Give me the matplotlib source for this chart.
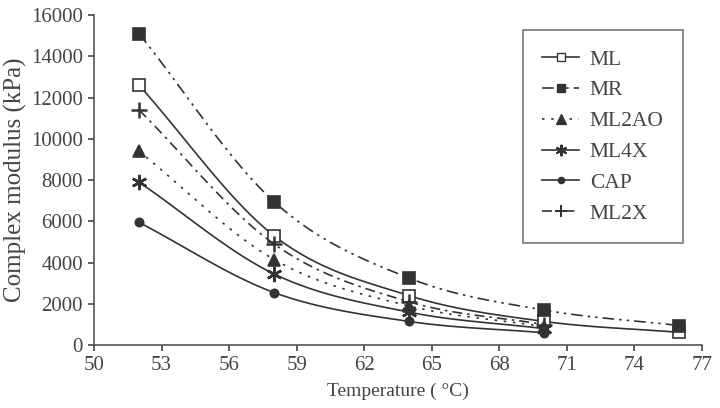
import numpy as np
import matplotlib
matplotlib.use('Agg')
import matplotlib.pyplot as plt

plt.rcParams['font.family'] = ['Liberation Serif', 'DejaVu Serif']

temp = [52, 58, 64, 70, 76]
ml = [12600, 5300, 2400, 1150, 620]
mr = [15100, 6950, 3250, 1700, 950]
ml2ao = [9400, 4150, 1900, 900]
ml4x = [7900, 3450, 1600, 800]
cap = [5950, 2550, 1150, 600]
ml2x = [11400, 4900, 2100, 1000]

names = ['ML', 'MR', 'ML2AO', 'ML4X', 'CAP', 'ML2X']
series = [ml, mr, ml2ao, ml4x, cap, ml2x]

col = '#333333'


def smooth(x, y, n=30):
    # Catmull-Rom curve through the points, like Excel's smoothed line
    x = np.asarray(x, float)
    y = np.asarray(y, float)
    px = np.concatenate([[2 * x[0] - x[1]], x, [2 * x[-1] - x[-2]]])
    py = np.concatenate([[2 * y[0] - y[1]], y, [2 * y[-1] - y[-2]]])
    xs, ys = [], []
    t = np.linspace(0, 1, n)
    for i in range(1, len(px) - 2):
        for p, out in ((px, xs), (py, ys)):
            p0, p1, p2, p3 = p[i - 1], p[i], p[i + 1], p[i + 2]
            out.extend(0.5 * (2 * p1 + (-p0 + p2) * t
                              + (2 * p0 - 5 * p1 + 4 * p2 - p3) * t ** 2
                              + (-p0 + 3 * p1 - 3 * p2 + p3) * t ** 3))
    return np.array(xs), np.array(ys)


styles = {
    'ML': dict(ls='-', marker='s', mfc='white', ms=8),
    'MR': dict(ls=(0, (7, 3, 1.5, 3, 1.5, 3)), marker='s', mfc=col, ms=8),
    'ML2AO': dict(ls=(0, (1.5, 4)), marker='^', mfc=col, ms=9),
    'ML4X': dict(ls='-', marker=(6, 2, 0), mfc=col, ms=11, mew=1.8),
    'CAP': dict(ls='-', marker='o', mfc=col, ms=6),
    'ML2X': dict(ls=(0, (6, 3, 1.5, 3)), marker='+', mfc=col, ms=12, mew=1.8),
}

fig = plt.figure(figsize=(7.2, 4.08), dpi=100)
ax = fig.add_axes([0.1306, 0.154, 0.8444, 0.809])

for name, vals in zip(names, series):
    st = styles[name]
    xs, ys = smooth(temp[:len(vals)], vals)
    ax.plot(xs, ys, color=col, lw=1.2, ls=st['ls'])
    ax.plot(temp[:len(vals)], vals, ls='none', marker=st['marker'], mfc=st['mfc'],
            mec=col, ms=st['ms'], mew=st.get('mew', 1.2), color=col)
    ax.plot([], [], color=col, lw=1.2, ls=st['ls'], marker=st['marker'], mfc=st['mfc'],
            mec=col, ms=st['ms'] * 0.75, mew=st.get('mew', 1.2) * 0.8, label=name)

ax.set_xlim(50, 77)
ax.set_ylim(0, 16000)
ax.set_xticks(range(50, 78, 3))
ax.set_yticks(range(0, 16001, 2000))
for s in ['top', 'right']:
    ax.spines[s].set_visible(False)
for s in ['left', 'bottom']:
    ax.spines[s].set_color('#555555')
    ax.spines[s].set_linewidth(1.2)
ax.tick_params(colors='#444444', labelsize=15, length=4, width=1.2)
ax.tick_params(axis='y', pad=4)
ax.set_xlabel('Temperature ( °C)', fontsize=14, color='#444444', labelpad=6)
ax.set_ylabel('Complex modulus (kPa)', fontsize=18, color='#444444', labelpad=3)

leg = ax.legend(loc='upper left', bbox_to_anchor=(0.7056, 0.9545), fontsize=15.5,
                frameon=True, fancybox=False, edgecolor='#555555', handlelength=1.7,
                borderpad=0.9, labelspacing=0.5, handletextpad=0.5, borderaxespad=0)
leg.get_frame().set_linewidth(1.2)
for t in leg.get_texts():
    t.set_color('#444444')

fig.savefig('out.png', dpi=100)
